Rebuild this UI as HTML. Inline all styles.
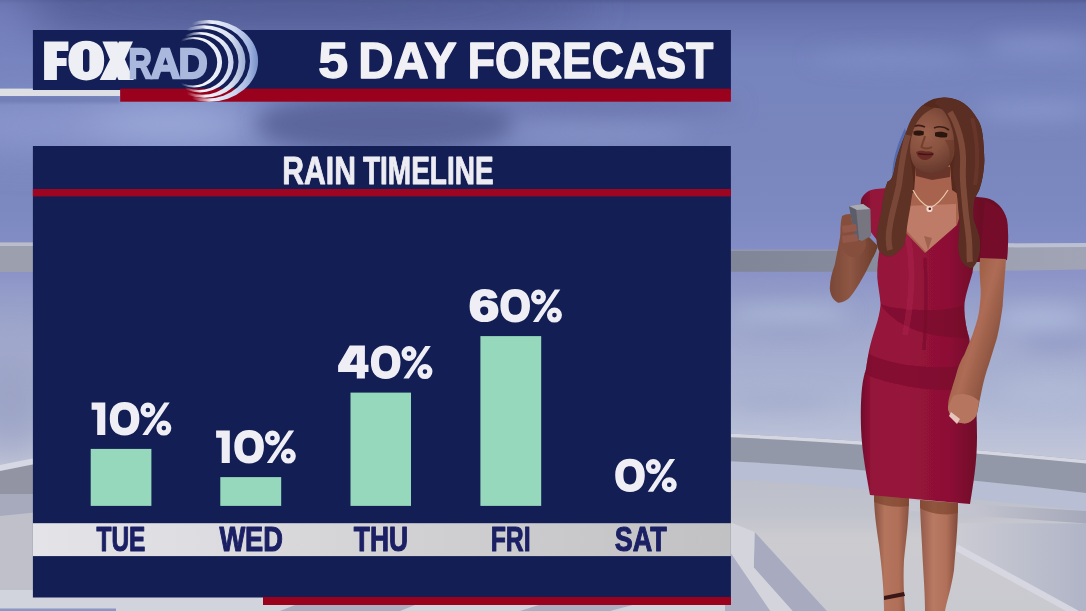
<!DOCTYPE html>
<html>
<head>
<meta charset="utf-8">
<title>5 Day Forecast</title>
<style>
html,body{margin:0;padding:0;background:#8f9dcf;}
body{width:1086px;height:611px;overflow:hidden;position:relative;font-family:"Liberation Sans",sans-serif;}
svg{position:absolute;left:0;top:0;display:block;}
text{font-family:"Liberation Sans",sans-serif;font-weight:bold;}
</style>
</head>
<body>
<svg width="1086" height="611" viewBox="0 0 1086 611">
<defs>
  <linearGradient id="sky" x1="0" y1="0" x2="0" y2="1">
    <stop offset="0.0000" stop-color="rgb(84,94,150)"/>
    <stop offset="0.0065" stop-color="rgb(96,108,168)"/>
    <stop offset="0.0229" stop-color="rgb(102,114,174)"/>
    <stop offset="0.0982" stop-color="rgb(118,132,190)"/>
    <stop offset="0.2455" stop-color="rgb(121,134,189)"/>
    <stop offset="0.3601" stop-color="rgb(125,138,193)"/>
    <stop offset="0.4010" stop-color="rgb(131,141,197)"/>
    <stop offset="0.4501" stop-color="rgb(140,148,200)"/>
    <stop offset="0.4910" stop-color="rgb(150,159,201)"/>
    <stop offset="0.5728" stop-color="rgb(164,172,207)"/>
    <stop offset="0.6547" stop-color="rgb(173,182,211)"/>
    <stop offset="0.7070" stop-color="rgb(184,191,215)"/>
    <stop offset="0.7692" stop-color="rgb(198,201,216)"/>
    <stop offset="0.8511" stop-color="rgb(194,196,207)"/>
    <stop offset="1.0000" stop-color="rgb(201,201,209)"/>
  </linearGradient>
  <filter id="b20" x="-50%" y="-50%" width="200%" height="200%"><feGaussianBlur stdDeviation="20"/></filter>
  <filter id="b10" x="-50%" y="-50%" width="200%" height="200%"><feGaussianBlur stdDeviation="10"/></filter>
  <filter id="b4" x="-50%" y="-50%" width="200%" height="200%"><feGaussianBlur stdDeviation="4"/></filter>
  <filter id="b2" x="-20%" y="-20%" width="140%" height="140%"><feGaussianBlur stdDeviation="1.6"/></filter>
  <filter id="b1" x="-20%" y="-20%" width="140%" height="140%"><feGaussianBlur stdDeviation="0.7"/></filter>
  <linearGradient id="arcg" gradientUnits="userSpaceOnUse" x1="195" y1="30" x2="258" y2="80">
    <stop offset="0" stop-color="#ffffff"/>
    <stop offset="0.45" stop-color="#e4e9f5"/>
    <stop offset="1" stop-color="#b4c3e4"/>
  </linearGradient>
  <linearGradient id="f1" gradientUnits="userSpaceOnUse" x1="192" y1="0" x2="212" y2="0"><stop offset="0" stop-color="#000"/><stop offset="1" stop-color="#fff"/></linearGradient>
  <linearGradient id="f2" gradientUnits="userSpaceOnUse" x1="187" y1="0" x2="206" y2="0"><stop offset="0" stop-color="#000"/><stop offset="1" stop-color="#fff"/></linearGradient>
  <linearGradient id="f3" gradientUnits="userSpaceOnUse" x1="185" y1="0" x2="202" y2="0"><stop offset="0" stop-color="#000"/><stop offset="1" stop-color="#fff"/></linearGradient>
  <linearGradient id="f4" gradientUnits="userSpaceOnUse" x1="181" y1="0" x2="197" y2="0"><stop offset="0" stop-color="#000"/><stop offset="1" stop-color="#fff"/></linearGradient>
  <mask id="m1" maskUnits="userSpaceOnUse" x="150" y="10" width="120" height="100"><rect x="150" y="10" width="120" height="100" fill="url(#f1)"/></mask>
  <mask id="m2" maskUnits="userSpaceOnUse" x="150" y="10" width="120" height="100"><rect x="150" y="10" width="120" height="100" fill="url(#f2)"/></mask>
  <mask id="m3" maskUnits="userSpaceOnUse" x="150" y="10" width="120" height="100"><rect x="150" y="10" width="120" height="100" fill="url(#f3)"/></mask>
  <mask id="m4" maskUnits="userSpaceOnUse" x="150" y="10" width="120" height="100"><rect x="150" y="10" width="120" height="100" fill="url(#f4)"/></mask>
  <path id="g1" d="M0 -32.4H13.7V0H5.6V-25.3H0Z"/>
  <path id="g0" fill-rule="evenodd" d="M18.2 -16.3C18.2 -27 23.6 -32.9 33 -32.9C42.4 -32.9 47.8 -27 47.8 -16.3C47.8 -5.6 42.4 0.4 33 0.4C23.6 0.4 18.2 -5.6 18.2 -16.3ZM26.4 -16.3C26.4 -9.7 28.6 -7.2 32.9 -7.2C37.2 -7.2 39.4 -9.7 39.4 -16.3C39.4 -22.9 37.2 -25.3 32.9 -25.3C28.6 -25.3 26.4 -22.9 26.4 -16.3Z"/>
  <g id="gp">
    <circle cx="56.3" cy="-25" r="4.9" fill="none" stroke-width="5.2"/>
    <circle cx="72.25" cy="-6.9" r="4.9" fill="none" stroke-width="5.2"/>
    <path d="M72.6 -32.5H78.1L56.2 0.1H50.7Z" stroke="none"/>
  </g>
  <path id="g4" fill-rule="evenodd" d="M-2.95 -32.9L-14.6 -13V-6.6H4.1V0H12.2V-6.6H15.8V-13.7H12.2V-32.9ZM4.1 -25.3V-13.7H-2.95Z"/>
  <clipPath id="dressclip"><path d="M861 200C863 194 868 190 876 189L888 188L891 204C894 214 898 223 904 231L925 253L957 225C960 216 962 208 964 200L970 196L986 198C996 200 1004 208 1007 220C1009 235 1008 248 1007 260L980 262L974 262C973 268 973 270 972.500 272.700C969 285 965 296 964.400 305.500C964 312 965 318 966 325C967 330 968 334 969.300 338.200C971 350 973 364 974 378C976 398 977 418 977 437C977 460 974 480 970 504L870 495C867 478 863 458 861.500 437C860.500 420 860.500 402 862 388C863 380 864 375 865.800 370C867 362 868 356 869.100 350.200C871 342 873 335 875.600 327.300C878 320 880 312 880.600 304.400C880 295 878 286 877.300 278C877 268 878 256 880.600 245.500C876 238 870 232 866 224C862 216 860 208 861 200Z"/></clipPath>
  <linearGradient id="dressg" gradientUnits="userSpaceOnUse" x1="860" y1="0" x2="980" y2="0">
    <stop offset="0" stop-color="#6f0a29"/><stop offset="0.1" stop-color="#95133a"/><stop offset="0.4" stop-color="#97143b"/><stop offset="0.75" stop-color="#8c0f35"/><stop offset="1" stop-color="#6c0927"/>
  </linearGradient>
  <linearGradient id="legL" gradientUnits="userSpaceOnUse" x1="874" y1="0" x2="909" y2="0">
    <stop offset="0" stop-color="#855040"/><stop offset="0.3" stop-color="#b4745d"/><stop offset="0.7" stop-color="#b06f59"/><stop offset="1" stop-color="#875242"/>
  </linearGradient>
  <linearGradient id="legR" gradientUnits="userSpaceOnUse" x1="920" y1="0" x2="958" y2="0">
    <stop offset="0" stop-color="#94594a"/><stop offset="0.35" stop-color="#b97a63"/><stop offset="0.7" stop-color="#b0705a"/><stop offset="1" stop-color="#80493a"/>
  </linearGradient>
  <linearGradient id="armR" gradientUnits="userSpaceOnUse" x1="950" y1="330" x2="1000" y2="345">
    <stop offset="0" stop-color="#96583f"/><stop offset="0.5" stop-color="#ae6c55"/><stop offset="1" stop-color="#86503c"/>
  </linearGradient>
  <linearGradient id="armL" gradientUnits="userSpaceOnUse" x1="830" y1="0" x2="875" y2="0">
    <stop offset="0" stop-color="#7a4838"/><stop offset="0.45" stop-color="#8e5644"/><stop offset="1" stop-color="#6e3e2c"/>
  </linearGradient>
  <radialGradient id="faceg" gradientUnits="userSpaceOnUse" cx="926" cy="134" r="40">
    <stop offset="0" stop-color="#9a604c"/><stop offset="0.5" stop-color="#87513f"/><stop offset="1" stop-color="#65382c"/>
  </radialGradient>
  <linearGradient id="rail1" gradientUnits="userSpaceOnUse" x1="725" y1="0" x2="1086" y2="0">
    <stop offset="0" stop-color="rgb(128,133,152)"/><stop offset="0.4" stop-color="rgb(134,139,158)"/><stop offset="0.7" stop-color="rgb(156,160,176)"/><stop offset="1" stop-color="rgb(160,164,180)"/>
  </linearGradient>
  <linearGradient id="floorg" gradientUnits="userSpaceOnUse" x1="0" y1="478" x2="0" y2="611">
    <stop offset="0" stop-color="rgb(188,190,202)"/><stop offset="0.25" stop-color="rgb(192,194,204)"/><stop offset="0.45" stop-color="rgb(203,203,208)"/><stop offset="1" stop-color="rgb(201,201,208)"/>
  </linearGradient>
  <linearGradient id="r1g" gradientUnits="userSpaceOnUse" x1="958" y1="0" x2="1086" y2="0">
    <stop offset="0" stop-color="rgb(203,203,211)"/><stop offset="1" stop-color="rgb(176,181,199)"/>
  </linearGradient>
  <linearGradient id="r2g" gradientUnits="userSpaceOnUse" x1="900" y1="0" x2="1086" y2="0">
    <stop offset="0" stop-color="rgb(198,199,209)"/><stop offset="0.4" stop-color="rgb(194,195,206)"/><stop offset="1" stop-color="rgb(166,169,186)"/>
  </linearGradient>
  <linearGradient id="stripg" gradientUnits="userSpaceOnUse" x1="33" y1="0" x2="731" y2="0">
    <stop offset="0" stop-color="rgb(228,228,232)"/><stop offset="0.22" stop-color="rgb(222,222,226)"/><stop offset="0.6" stop-color="rgb(207,207,209)"/><stop offset="1" stop-color="rgb(193,193,195)"/>
  </linearGradient>
  <linearGradient id="arcg1" gradientUnits="userSpaceOnUse" x1="205" y1="0" x2="258" y2="0">
    <stop offset="0" stop-color="rgb(242,245,251)"/><stop offset="0.55" stop-color="rgb(205,215,240)"/><stop offset="0.82" stop-color="rgb(165,183,225)"/><stop offset="1" stop-color="rgb(118,144,202)"/>
  </linearGradient>
  <linearGradient id="arcg2" gradientUnits="userSpaceOnUse" x1="200" y1="0" x2="245.5" y2="0">
    <stop offset="0" stop-color="rgb(245,247,252)"/><stop offset="0.65" stop-color="rgb(218,225,242)"/><stop offset="1" stop-color="rgb(158,174,212)"/>
  </linearGradient>
  <linearGradient id="arcg3" gradientUnits="userSpaceOnUse" x1="195" y1="0" x2="233.6" y2="0">
    <stop offset="0" stop-color="rgb(248,249,253)"/><stop offset="0.7" stop-color="rgb(228,233,246)"/><stop offset="1" stop-color="rgb(198,208,235)"/>
  </linearGradient>
  <linearGradient id="arcg4" gradientUnits="userSpaceOnUse" x1="190" y1="0" x2="222" y2="0">
    <stop offset="0" stop-color="rgb(250,251,254)"/><stop offset="1" stop-color="rgb(230,235,248)"/>
  </linearGradient>
</defs>

<!-- BACKGROUND -->
<g id="bg">
  <rect x="0" y="0" width="1086" height="611" fill="url(#sky)"/>
  <!-- large-scale tonal patches -->
  <g filter="url(#b20)">
    <ellipse cx="40" cy="126" rx="100" ry="22" fill="rgb(142,154,209)" opacity="0.95"/>
    <ellipse cx="170" cy="124" rx="88" ry="22" fill="rgb(162,175,222)" opacity="0.95"/>
    <ellipse cx="10" cy="20" rx="40" ry="30" fill="rgb(126,137,197)" opacity="0.8"/>
    <ellipse cx="300" cy="8" rx="300" ry="24" fill="rgb(80,90,146)" opacity="0.9"/>
    
    <ellipse cx="10" cy="400" rx="40" ry="55" fill="rgb(154,161,196)" opacity="0.9"/>
    
  </g>
  <g filter="url(#b10)">
    <ellipse cx="385" cy="124" rx="128" ry="30" fill="rgb(92,102,156)"/>
    <ellipse cx="610" cy="106" rx="130" ry="9" fill="rgb(104,114,168)" opacity="0.9"/>
    <ellipse cx="600" cy="134" rx="90" ry="8" fill="rgb(138,150,203)" opacity="0.8"/>
    <ellipse cx="1035" cy="110" rx="60" ry="8" fill="rgb(146,160,214)" opacity="0.7"/>
    <ellipse cx="1040" cy="45" rx="55" ry="8" fill="rgb(142,156,210)" opacity="0.7"/>
    <ellipse cx="890" cy="58" rx="80" ry="9" fill="rgb(134,148,204)" opacity="0.5"/>
    <ellipse cx="790" cy="314" rx="60" ry="8" fill="rgb(176,190,220)" opacity="0.8"/><ellipse cx="790" cy="329" rx="45" ry="5" fill="rgb(138,148,190)" opacity="0.7"/>
    <ellipse cx="1040" cy="318" rx="45" ry="11" fill="rgb(176,188,222)" opacity="0.8"/>
    <ellipse cx="1060" cy="342" rx="40" ry="8" fill="rgb(136,146,192)" opacity="0.7"/>
    <ellipse cx="770" cy="292" rx="50" ry="8" fill="rgb(140,148,195)" opacity="0.6"/>
    <ellipse cx="780" cy="402" rx="50" ry="7" fill="rgb(158,166,200)" opacity="0.7"/>
    <ellipse cx="1050" cy="392" rx="50" ry="12" fill="rgb(180,190,216)" opacity="0.7"/>
  </g>
  <!-- rails and floor -->
  <g filter="url(#b1)">
    <rect x="0" y="242.5" width="40" height="29.5" fill="rgb(156,159,174)"/>
    <rect x="0" y="242.5" width="40" height="3.5" fill="rgb(186,189,204)"/>
    <path d="M725 250L935 250L935 243.8L1086 243L1086 269.5L935 271.8L725 271.8Z" fill="url(#rail1)"/>
    <path d="M935 243.800L1086 243L1086 247L935 247.800Z" fill="rgb(187,192,211)"/>
    <path d="M725 249.600L935 249.600L935 251L725 251Z" fill="rgb(146,151,174)"/>
    <!-- floor right -->
    <path d="M725 461Q880 468.500 1086 493L1086 611L725 611Z" fill="url(#floorg)"/>
    <path d="M725 461Q880 468.500 1086 493L1086 511Q880 488 725 478.500Z" fill="rgb(184,190,211)"/>
    <path d="M958 523L1086 523.6L1086 611L1078 611L958 545Z" fill="url(#r1g)"/><path d="M900 500L1086 511L1086 523.6L900 510Z" fill="url(#r2g)"/>
    
    <!-- rail 2 right -->
    <path d="M725 433.500Q880 440 1086 460L1086 493Q880 468.500 725 461Z" fill="rgb(146,152,167)"/>
    <path d="M725 433.500Q880 440 1086 460L1086 463.500Q880 443.500 725 437Z" fill="rgb(212,215,226)"/>
    <!-- left col -->
    <path d="M0 516L40 512L40 611L0 611Z" fill="rgb(191,192,201)"/>
    <path d="M0 466L40 458L40 494L0 494Z" fill="rgb(146,148,163)"/>
    <path d="M0 494L40 494L40 512L0 516Z" fill="rgb(166,170,188)"/>
    <path d="M0 465L40 457L40 463L0 471Z" fill="rgb(214,217,228)"/>
    <rect x="0" y="590" width="731" height="21" fill="rgb(209,211,221)"/>
    <path d="M280 611L300 603L420 603L400 611Z M520 611L545 603L640 603L610 611Z" fill="rgb(170,174,192)"/>
    <!-- step shapes -->
    <path d="M754.6 531.9L826.8 611L792.5 611L753.8 567.6Z" fill="rgb(168,171,192)"/>
    <path d="M725 520L754.6 531.9L753.8 567.6L792.5 611L770.2 611L731 553.5L725 553.5Z" fill="rgb(212,212,220)"/><path d="M725 553.5L731 553.5L770.2 611L725 611Z" fill="rgb(172,175,196)"/>
    <path d="M958 544.500L1079 611L1066 611L955 550.500Z" fill="rgb(215,215,225)" opacity="0.95"/>
    <rect x="0" y="608.5" width="116" height="3" fill="#8a97c4"/>
  </g>
</g>

<g filter="url(#b2)"><rect x="-5" y="96" width="125" height="7" fill="rgb(104,114,172)" opacity="0.55"/></g>

<!-- PERSON -->
<g id="person" filter="url(#b1)">
  <!-- blue halo left of hair -->
  <path d="M905 128C897 145 890 165 893 185L903 180L908 140Z" fill="#4b62a8" opacity="0.8"/>
  <!-- legs -->
  <path d="M874 494L909 497C909 520 906 540 904 560C903 580 904 595 905 611L884 611C884 590 882 570 879 545C876 525 874 510 874 494Z" fill="url(#legL)"/>
  <path d="M920 500L958 503C958 525 956 545 954 570C951 590 947 600 945 611L925 611C925 590 923 570 922 545C921 525 920 512 920 500Z" fill="url(#legR)"/>
  <path d="M874 494L909 497L909 506C898 508 884 506 874 502Z" fill="#7d442c" opacity="0.7"/>
  <path d="M920 500L958 503L958 513C946 516 930 514 920 508Z" fill="#7d442c" opacity="0.7"/>
  <path d="M884 596L904 592L905 596L884 600Z" fill="#3a1414"/>
  <!-- hair back -->
  <path d="M944.6 97.6C930 97 919 106 912 119C905 135 898 150 895 166C893 176 892 180 887.5 181.8C884 190 882.5 200 881.6 209.3L905 240L960 250L979.5 254C980.500 248 980.500 242 979.5 237C978 230 975 224 973.6 218.4C973 212 973.500 205 974.6 198.8C977 194 979 191 979.5 189C982 182 984 172 984.4 160C983.500 140 983 128 978 120C970 106 960 98 944.6 97.6Z" fill="#54291f"/>
  <!-- neck and chest -->
  <path d="M916 165L950 165L952 190L964 198L968 205L962 226L926 256L900 232L896 205L904 198L914 192Z" fill="#a8644f"/>
  <path d="M916 168L950 167L950 177L932 180L916 176Z" fill="#5e2c22" opacity="0.85"/>
  <path d="M906 206L956 204L956 226L926 252L906 230Z" fill="#be7c67"/>
  <path d="M924 236L928 250L932 238Z" fill="#8a5140" opacity="0.6"/>
  <!-- shoulder skin -->
  <path d="M877 190L888 187L892 198L880 202Z" fill="#b07252"/>
  <path d="M974 198L988 200L986 212L974 208Z" fill="#a96a48"/>
  <!-- dress -->
  <g clip-path="url(#dressclip)">
    <rect x="850" y="180" width="170" height="340" fill="url(#dressg)"/>
    <path d="M880 304C890 318 905 328 925 333C940 337 955 338 970 338L966 320L964 305C950 312 900 312 880 304Z" fill="#6e0727" opacity="0.5"/>
    <path d="M865 352C885 364 930 372 976 364L976 388C940 394 890 386 860 372Z" fill="#6e0727" opacity="0.45"/>
    <path d="M905 225C915 260 912 300 905 335" stroke="#ad2850" stroke-width="6" fill="none" opacity="0.45"/>
    <path d="M925 258C927 290 926 320 924 350" stroke="#6e0727" stroke-width="3" fill="none" opacity="0.5"/>
    <path d="M985 200L1010 215L1010 262L980 262Z" fill="#7d0c30" opacity="0.5"/>
  </g>
  <!-- face -->
  <path d="M921 112C927 107 938 106 946 111C952 119 955 135 955 149C954 158 951 164 947 168C942 172 936 174 931 173.5C925 173 921 171 918 169C913 166 911 160 910 152C909 144 910 135 913 125C915 120 918 115 921 112Z" fill="url(#faceg)"/>
  <g filter="url(#b1)">
    <path d="M913.500 131.500C916 130 921 130 924 131.500L923.500 135C920 136 916 136 913.500 134.500Z" fill="#2b1511"/>
    <path d="M935 132.500C939 131 944 131.500 947.500 133.500L947 137C943 138 938 137.500 935 136Z" fill="#2b1511"/>
    <path d="M912 127C916 125 921 125 925 127" stroke="#3a1c14" stroke-width="1.6" fill="none"/>
    <path d="M934 128C939 126 945 127 949 130" stroke="#3a1c14" stroke-width="1.6" fill="none"/>
    <path d="M925 136C924 140 922 144 921.500 147C924 149 929 149 932 147" stroke="#70402c" stroke-width="2" fill="none"/>
    <path d="M916 152C920 150 924 151 926 151.500C929 151 932 151.500 934 153.500C932 158 928 160.500 924 160C920 159.500 917 156 916 152Z" fill="#6c2b27"/>
    <path d="M918 153.500C922 154.500 928 155 933 154" stroke="#3d1514" stroke-width="1.5" fill="none"/>
    <path d="M945 140C951 150 952 160 946 168C951 162 955 152 954.500 140Z" fill="#6a3725" opacity="0.6"/>
  </g>
  <!-- front hair locks -->
  <path d="M923 105C915 111 910 120 906 132C900 148 896 158 895 166C893 176 892 180 887.5 181.8C884 190 882.5 200 881.6 209.3C880 218 877.5 226 876.7 234.8C876 241 877 246 878.7 250.5C882 255 886 257 891.4 256.4C897 254 901 250 904.2 244.6C906 238 906.500 232 907 227C908 220 909 214 910 209C911 202 912 196 913 189.6C914 182 913 175 912 168C910 156 909 146 912 135C915 122 922 113 934 108Z" fill="#5e3026"/>
  <path d="M935 104C944 108 951 120 953.5 135C955 147 955 158 953 168C952 174 954 182 956.2 189.6C957 196 958 202 958.2 209.3C959 216 959.500 222 959.2 229C959 236 958 242 958.2 248.5C958.500 254 960 258 962 262.3C965 266 968 268 972 268.2C975 266 978 261 979.5 254C980.500 248 980.500 242 979.5 237C978 230 975 224 973.6 218.4C973 212 973.500 205 974.6 198.8C977 194 979 191 979.5 189C982 182 984 172 984.4 160C983.500 140 983 128 978 120C970 106 960 98 944.6 97.6C938 98 934 102 935 104Z" fill="#5a2d23"/>
  <path d="M950 112C958 125 964 145 963 165C962 180 964 192 965 205C966 218 968 228 969 240C970 250 969 256 970 262" stroke="#8a5240" stroke-width="6" fill="none" opacity="0.75"/>
  <path d="M908 135C902 155 901 170 899 185C896 200 892 212 890 225C888 235 888 242 890 250" stroke="#84503e" stroke-width="6" fill="none" opacity="0.7"/>
  <path d="M972 118C978 140 978 165 975 185" stroke="#6d3a2c" stroke-width="4" fill="none" opacity="0.7"/>
  <!-- right arm (over dress) -->
  <path d="M980 258L1006 259C1005 275 1003.500 292 1002.700 305.500C1001 318 999 330 997 338C994 348 991 357 989 364C986 372 984 380 982.400 387.300C981 394 980 399 979 403.700C978 410 977 414 975.800 416.800C972 422 967 424 962.700 423.300C958 423 955 421 953 418.400C950 415 948 411 948 407C948 400 950 395 951.300 390.600C953 384 955 379 956.200 374.200C958 367 961 360 964.400 354.600C967 348 970 341 972.500 335C975 327 978 319 979 312C980 304 981 296 980.700 289C980 278 979 268 980 258Z" fill="url(#armR)"/>
  <path d="M953 396C960 392 972 394 979 401L977 414C973 422 967 424 962.700 423.300C958 423 955 421 953 418.400C950 415 948 411 948 407Z" fill="#b5755e"/>
  <path d="M951 412L960 419L957 424L949 416Z" fill="#e6c5bd"/>
  <!-- left arm -->
  <path d="M841 232L866 234L878 246C876 252 874 256 872.400 258.600C869 266 866 272 862.500 278C858 286 854 292 849.500 297.800C846 301 842 303 838 302.700C833 300 830 295 829.800 288C830 280 832 272 834.700 265C837 254 839 243 841 232Z" fill="url(#armL)"/>
  <path d="M842 216C848 212 858 214 864 220L866 245C864 254 858 258 852 257C846 256 842 250 841 243C840 234 840 224 842 216Z" fill="#86503e"/>
  <!-- clicker -->
  <path d="M849 206L863 204L870.500 209L871 236L862 241L855 238L852 222Z" fill="#77757f"/>
  <path d="M849 206L856 208L859 239L855 238L852 222Z" fill="#5c5d69"/>
  <path d="M849 206L863 204L870 209L857 210Z" fill="#a9aab4"/>
  <path d="M842 226L856 224L857 231L843 233ZM842 236L857 234L858 241L843 243Z" fill="#93594a"/>
  <!-- necklace -->
  <path d="M913 190C918 200 924 205 930 208C937 205 943 198 948 190" stroke="#e9c9a8" stroke-width="1.2" fill="none"/>
  <circle cx="929.5" cy="209" r="3.1" fill="#f0d8d0"/><circle cx="929.8" cy="208.8" r="1.3" fill="#5a1c1c"/>
</g>

<!-- PANELS -->
<g id="panels">
  <!-- header -->
  <rect x="0" y="88.6" width="120.2" height="7.4" fill="#dddfe4"/>
  <rect x="32.9" y="30" width="698" height="60" fill="#131f56"/>
  <rect x="120.2" y="88.6" width="610.7" height="13.1" fill="#9a011c"/>
  <!-- main -->
  <rect x="32.9" y="146" width="698" height="451.5" fill="#121e54"/>
  <rect x="32.9" y="189" width="698" height="7.4" fill="#9d0520"/>
  <rect x="32.9" y="523.2" width="698" height="32.9" fill="url(#stripg)"/>
  <rect x="263" y="597" width="468" height="8" fill="#9a011c"/>
</g>

<!-- LOGO -->
<g id="logo">
  <g fill="#eeeff4">
    <path d="M44.1 41.4H68.4V51H56.9V58H66.6V65.9H56.9V79.9H44.1Z"/>
    <path fill-rule="evenodd" d="M86.3 40.8C97.5 40.8 104.2 47 104.2 60.6C104.2 74.2 97.5 80.4 86.3 80.4C75.1 80.4 68.4 74.2 68.4 60.6C68.4 47 75.1 40.8 86.3 40.8ZM86.2 49C84.2 49 83 50.4 83 52.6V68.4C83 70.6 84.2 72 86.2 72C88.2 72 89.4 70.6 89.4 68.4V52.6C89.4 50.4 88.2 49 86.2 49Z"/>
    <path d="M102.4 41.4H117.2L133.8 79.9H118.5Z"/>
    <path d="M119 41.4H133L115.5 79.9H99.7Z"/>
  </g>
  <g id="t_rad" font-size="42.6" fill="#a9b8dc" stroke="#a9b8dc" stroke-width="2.3" stroke-linejoin="miter">
    <text x="128.47" y="77.9" textLength="23.3" lengthAdjust="spacingAndGlyphs">R</text>
    <text x="150.63" y="77.9" textLength="29.5" lengthAdjust="spacingAndGlyphs">A</text>
    <text x="178.6" y="77.9" textLength="29.2" lengthAdjust="spacingAndGlyphs">D</text>
  </g>
  <g id="arcs">
    <clipPath id="abovehdr"><rect x="150" y="10" width="120" height="20.3"/></clipPath>
    <g clip-path="url(#abovehdr)"><ellipse cx="207" cy="61.05" rx="43.4" ry="37.8" fill="#1b2560" mask="url(#m1)"/></g>
    <path fill-rule="evenodd" fill="url(#arcg1)" mask="url(#m1)" d="M159.9 60.95a49.1 40.85 0 1 0 98.2 0a49.1 40.85 0 1 0 -98.2 0ZM164 61.05a43 37.45 0 1 0 86 0a43 37.45 0 1 0 -86 0Z"/>
    <path fill-rule="evenodd" fill="url(#arcg2)" mask="url(#m2)" d="M162.5 61.45a41.5 36.25 0 1 0 83 0a41.5 36.25 0 1 0 -83 0ZM166.5 61.65a36 33.15 0 1 0 72 0a36 33.15 0 1 0 -72 0Z"/>
    <path fill-rule="evenodd" fill="url(#arcg3)" mask="url(#m3)" d="M166.4 62.2a33.6 30.2 0 1 0 67.2 0a33.6 30.2 0 1 0 -67.2 0ZM169.7 62.3a29.3 27.7 0 1 0 58.6 0a29.3 27.7 0 1 0 -58.6 0Z"/>
    <path fill-rule="evenodd" fill="url(#arcg4)" mask="url(#m4)" d="M165.9 62.2a28.1 25.3 0 1 0 56.2 0a28.1 25.3 0 1 0 -56.2 0ZM168.8 62.25a24.2 23.15 0 1 0 48.4 0a24.2 23.15 0 1 0 -48.4 0Z"/>
  </g>
</g>
<!-- BARS -->
<g id="bars" fill="#96d8bc">
  <rect x="90.7" y="448.9" width="60.7" height="57"/>
  <rect x="220.3" y="477.1" width="60.9" height="28.8"/>
  <rect x="350.5" y="392.6" width="60.5" height="113.3"/>
  <rect x="480.4" y="336.1" width="60.8" height="169.8"/>
</g>

<!-- TEXT -->
<g id="txt">
  <g fill="#f0f0f5" stroke="#f0f0f5" stroke-width="1.4" stroke-linejoin="round" font-size="49.6">
    <text id="t_title" x="318.25" y="77.5" textLength="29.89" lengthAdjust="spacingAndGlyphs">5</text>
    <text x="358.35" y="77.5" textLength="98.44" lengthAdjust="spacingAndGlyphs">DAY</text>
    <text x="467.79" y="77.5" textLength="245.6" lengthAdjust="spacingAndGlyphs">FORECAST</text>
  </g>
  <g fill="#ececf2" stroke="#ececf2" stroke-width="0.9" stroke-linejoin="round" font-size="38">
    <text id="t_rain" x="282.32" y="183.55" textLength="73.55" lengthAdjust="spacingAndGlyphs">RAIN</text>
    <text id="t_time" x="362.97" y="183.55" textLength="130.69" lengthAdjust="spacingAndGlyphs">TIMELINE</text>
  </g>
  <g id="pct" fill="#eeeef4" stroke="#eeeef4" stroke-width="0">
    <g transform="translate(91.6 435)"><use href="#g1"/><use href="#g0"/><use href="#gp"/></g>
    <g transform="translate(216.1 463)"><use href="#g1"/><use href="#g0"/><use href="#gp"/></g>
    <g transform="translate(352.7 378.5)"><use href="#g4"/><use href="#g0"/><use href="#gp"/></g>
    <g transform="translate(482.2 322)"><text id="p6" x="-13.2" y="-0.6" font-size="44.5" stroke-width="2.2" stroke-linejoin="round" textLength="30" lengthAdjust="spacingAndGlyphs">6</text><use href="#g0"/><use href="#gp"/></g>
    <g transform="translate(597 491.6)"><use href="#g0"/><use href="#gp"/></g>
  </g>
  <g id="days" fill="#1b1f63" font-size="34.5" stroke="#1b1f63" stroke-width="1.1" stroke-linejoin="round">
    <text id="d1" x="96.51" y="551.45" textLength="48.91" lengthAdjust="spacingAndGlyphs">TUE</text>
    <text id="d2" x="219.38" y="551.45" textLength="63.62" lengthAdjust="spacingAndGlyphs">WED</text>
    <text id="d3" x="353.79" y="551.45" textLength="54.2" lengthAdjust="spacingAndGlyphs">THU</text>
    <text id="d4" x="490.68" y="551.45" textLength="39.96" lengthAdjust="spacingAndGlyphs">FRI</text>
    <text id="d5" x="614.67" y="551.45" textLength="51.96" lengthAdjust="spacingAndGlyphs">SAT</text>
  </g>
</g>
</svg>
</body>
</html>
